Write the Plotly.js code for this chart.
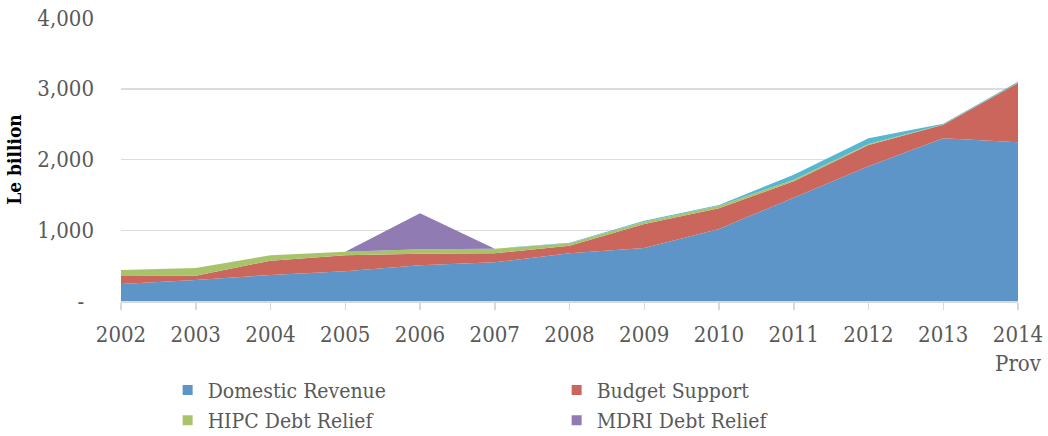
<!DOCTYPE html>
<html>
<head>
<meta charset="utf-8">
<script src="https://cdn.plot.ly/plotly-3.0.1.min.js"></script>
<style>html,body{margin:0;padding:0;background:#fff}#chart{width:1048px;height:436px}</style>
</head>
<body>
<div id="chart"></div>
<script>
var years = ['2002','2003','2004','2005','2006','2007','2008','2009','2010','2011','2012','2013','2014<br>Prov'];
var domesticRevenue = [240, 297, 367, 420, 504, 547, 674, 749, 1018, 1456, 1904, 2299, 2243];
var budgetSupport   = [113, 61, 203, 226, 165, 127, 108, 339, 292, 236, 301, 193, 838];
var hipcDebtRelief  = [85, 108, 76, 51, 61, 66, 33, 33, 37, 23, 14, 3, 3];
var mdriDebtRelief  = [0, 0, 0, 0, 509, 0, 0, 0, 0, 0, 0, 0, 0];
var otherSupport    = [0, 0, 0, 0, 0, 0, 9, 14, 10, 71, 80, 11, 16];
var yTickVals = [0, 1000, 2000, 3000, 4000];
var yTickText = ['-\u2002', '1,000', '2,000', '3,000', '4,000'];

var FONT = 'DejaVu Serif Condensed, Liberation Serif, serif';
var GREY = '#595959';

var series = [
  {name: 'Domestic Revenue', y: domesticRevenue, color: '#5E95C9', legend: true},
  {name: 'Budget Support', y: budgetSupport, color: '#CB665C', legend: true},
  {name: 'HIPC Debt Relief', y: hipcDebtRelief, color: '#A7C46B', legend: true},
  {name: 'MDRI Debt Relief', y: mdriDebtRelief, color: '#917BB3', legend: true},
  {name: 'Other', y: otherSupport, color: '#56B7CF', legend: false}
];

var traces = [];
series.forEach(function(s){
  traces.push({
    type: 'scatter', mode: 'lines', x: years, y: s.y, name: s.name,
    stackgroup: 'one', line: {width: 0, color: s.color}, fillcolor: s.color,
    showlegend: false, hoverinfo: 'x+y+name'
  });
});
series.forEach(function(s){
  if (!s.legend) return;
  traces.push({
    type: 'scatter', mode: 'markers', x: [null], y: [null], name: s.name,
    marker: {symbol: 'square', size: 10, color: s.color}, showlegend: true
  });
});

var layout = {
  width: 1048, height: 436,
  margin: {l: 121, r: 30, t: 18, b: 135, autoexpand: false},
  paper_bgcolor: '#ffffff', plot_bgcolor: '#ffffff',
  font: {family: FONT, color: GREY, size: 22},
  showlegend: true,
  legend: {
    orientation: 'h', traceorder: 'normal',
    x: 0.052, xanchor: 'left', y: -0.243, yanchor: 'top',
    entrywidth: 344, font: {family: FONT, size: 21, color: GREY},
    tracegroupgap: 0, itemclick: false
  },
  xaxis: {
    type: 'category', range: [0, 12], showgrid: false, automargin: false,
    showline: true, linecolor: '#D9D9D9', linewidth: 1.5,
    ticks: 'outside', ticklen: 7, tickcolor: '#D9D9D9', tickwidth: 1.5,
    ticklabelstandoff: 6,
    tickfont: {family: FONT, size: 22, color: GREY},
    fixedrange: true
  },
  yaxis: {
    range: [0, 4000], tickvals: yTickVals, ticktext: yTickText, automargin: false,
    showgrid: true, gridcolor: '#DCDCDC', gridwidth: 1.5,
    zeroline: false, showline: false, ticks: '',
    ticklabelstandoff: 26,
    tickfont: {family: FONT, size: 22, color: GREY},
    title: {text: '<b>Le billion</b>', font: {family: FONT, size: 19, color: '#000000'}, standoff: 10},
    fixedrange: true
  }
};

Plotly.newPlot('chart', traces, layout, {displayModeBar: false, staticPlot: true});
</script>
</body>
</html>
